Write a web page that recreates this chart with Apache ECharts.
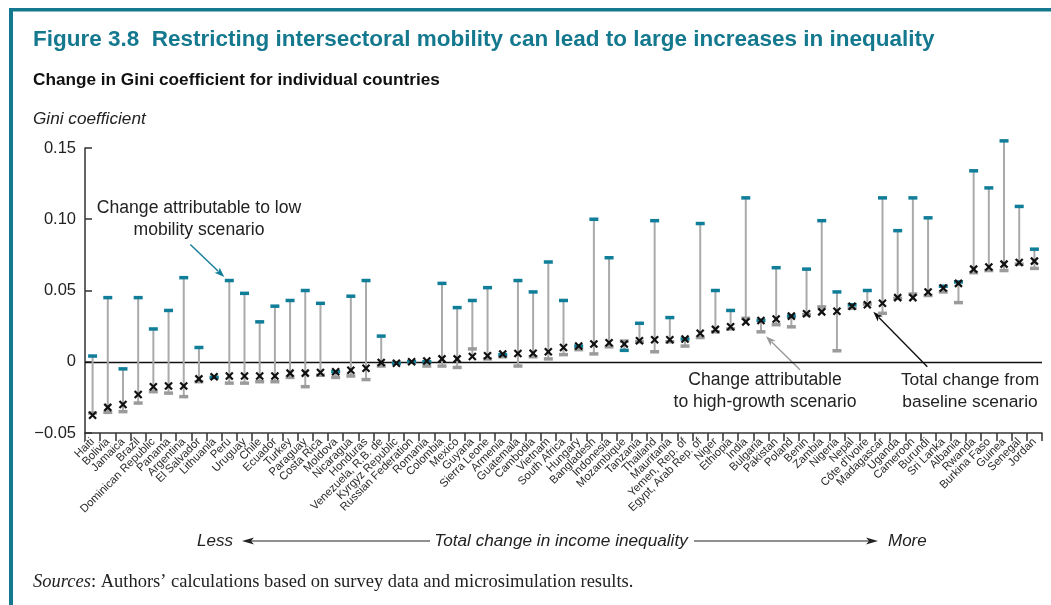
<!DOCTYPE html>
<html>
<head>
<meta charset="utf-8">
<script src="https://cdn.jsdelivr.net/npm/echarts@6/dist/echarts.min.js"></script>
<style>
  html, body { margin: 0; padding: 0; background: #fff; }
  #chart { width: 1051px; height: 605px; }
</style>
</head>
<body>
<div id="chart"></div>
<script>
// Countries ordered by total change in the Gini coefficient
var countries = ['Haiti','Bolivia','Jamaica','Brazil','Dominican Republic','Panama','Argentina','El Salvador','Lithuania','Peru','Uruguay','Chile','Ecuador','Turkey','Paraguay','Costa Rica','Moldova','Nicaragua','Honduras','Venezuela, R.B. de','Kyrgyz Republic','Russian Federation','Romania','Colombia','Mexico','Guyana','Sierra Leone','Armenia','Guatemala','Cambodia','Vietnam','South Africa','Hungary','Bangladesh','Indonesia','Mozambique','Tanzania','Thailand','Mauritania','Yemen, Rep. of','Egypt, Arab Rep. of','Niger','Ethiopia','India','Bulgaria','Pakistan','Poland','Benin','Zambia','Nigeria','Nepal',"Côte d'Ivoire",'Madagascar','Uganda','Cameroon','Burundi','Sri Lanka','Albania','Rwanda','Burkina Faso','Guinea','Senegal','Jordan'];

// Change attributable to the low mobility scenario
var lowMobility = [0.004,0.045,-0.005,0.045,0.023,0.036,0.059,0.010,-0.011,0.057,0.048,0.028,0.039,0.043,0.050,0.041,-0.007,0.046,0.057,0.018,-0.001,0.000,0.000,0.055,0.038,0.043,0.052,0.005,0.057,0.049,0.070,0.043,0.011,0.100,0.073,0.008,0.027,0.099,0.031,0.016,0.097,0.050,0.036,0.115,0.029,0.066,0.032,0.065,0.099,0.049,0.040,0.050,0.115,0.092,0.115,0.101,0.053,0.056,0.134,0.122,0.155,0.109,0.079];

// Change attributable to the high-growth scenario
var highGrowth = [-0.036,-0.0355,-0.035,-0.029,-0.021,-0.022,-0.0245,-0.014,-0.011,-0.015,-0.015,-0.014,-0.014,-0.011,-0.0175,-0.0095,-0.011,-0.010,-0.0125,-0.003,-0.001,0.000,-0.003,-0.003,-0.004,0.009,0.002,0.0035,-0.003,0.0035,0.002,0.005,0.0085,0.0055,0.0105,0.0145,0.014,0.007,0.014,0.011,0.017,0.021,0.023,0.0305,0.021,0.026,0.0245,0.033,0.0385,0.0077,0.0375,0.0405,0.034,0.0445,0.0475,0.0465,0.049,0.0415,0.0625,0.064,0.064,0.0685,0.0655];

// Total change from the baseline scenario
var totalChange = [-0.0375,-0.032,-0.030,-0.023,-0.0175,-0.017,-0.017,-0.012,-0.0105,-0.010,-0.010,-0.010,-0.010,-0.008,-0.008,-0.0075,-0.007,-0.006,-0.0045,-0.0005,-0.001,0.000,0.0005,0.002,0.002,0.0037,0.0042,0.0054,0.0058,0.006,0.007,0.010,0.011,0.0124,0.0133,0.0125,0.0147,0.0154,0.0154,0.016,0.020,0.0227,0.0245,0.028,0.029,0.030,0.032,0.0337,0.035,0.0355,0.039,0.040,0.041,0.045,0.045,0.049,0.0517,0.055,0.065,0.0665,0.0685,0.0697,0.0706];

var yTicks = { min: -0.05, max: 0.15, interval: 0.05 };

var TEAL = '#117e99';
var FRAME = '#14788f';
var GRAY_TICK = '#9b9b9b';
var STEM = '#aaaaaa';
var SANS = '"Liberation Sans", Arial, Helvetica, sans-serif';
var SERIF = '"Liberation Serif", "Times New Roman", serif';

var seriesData = countries.map(function (c, i) {
  return [i, lowMobility[i], highGrowth[i], totalChange[i]];
});

function renderScenario(params, api) {
  var i = api.value(0);
  var lo = api.value(1), hg = api.value(2), tot = api.value(3);
  var pLo = api.coord([i, lo]);
  var pHg = api.coord([i, hg]);
  var pTot = api.coord([i, tot]);
  var ys = [pLo[1], pHg[1], pTot[1]];
  var top = Math.min.apply(null, ys), bot = Math.max.apply(null, ys);
  var x = pLo[0];
  var w = 9, h = 3.5, s = 3.5;
  return {
    type: 'group',
    children: [
      { type: 'line', shape: { x1: x, y1: top, x2: x, y2: bot }, style: { stroke: STEM, lineWidth: 2 } },
      { type: 'rect', shape: { x: x - w / 2, y: pHg[1] - h / 2, width: w, height: h }, style: { fill: GRAY_TICK } },
      { type: 'rect', shape: { x: x - w / 2, y: pLo[1] - h / 2, width: w, height: h }, style: { fill: TEAL } },
      { type: 'line', shape: { x1: x - s, y1: pTot[1] - s, x2: x + s, y2: pTot[1] + s }, style: { stroke: '#111', lineWidth: 2.2 } },
      { type: 'line', shape: { x1: x - s, y1: pTot[1] + s, x2: x + s, y2: pTot[1] - s }, style: { stroke: '#111', lineWidth: 2.2 } }
    ]
  };
}

var chart = echarts.init(document.getElementById('chart'), null, { renderer: 'canvas' });

var baseGraphics = [
  // frame
  { type: 'rect', shape: { x: 9, y: 8, width: 4, height: 597 }, style: { fill: FRAME }, silent: true },
  { type: 'rect', shape: { x: 9, y: 8, width: 1042, height: 3.5 }, style: { fill: FRAME }, silent: true },
  // headings
  { type: 'text', x: 33, y: 40, style: { text: 'Figure 3.8  Restricting intersectoral mobility can lead to large increases in inequality', font: 'bold 22.5px ' + SANS, fill: FRAME, verticalAlign: 'middle' } },
  { type: 'text', x: 33, y: 80, style: { text: 'Change in Gini coefficient for individual countries', font: 'bold 17.2px ' + SANS, fill: '#111', verticalAlign: 'middle' } },
  { type: 'text', x: 33, y: 119, style: { text: 'Gini coefficient', font: 'italic 17.2px ' + SANS, fill: '#222', verticalAlign: 'middle' } },
  // annotations
  { type: 'text', x: 199, y: 219, style: { text: 'Change attributable to low\nmobility scenario', font: '17.6px ' + SANS, fill: '#222', align: 'center', verticalAlign: 'middle', lineHeight: 22 } },
  { type: 'text', x: 765, y: 391, style: { text: 'Change attributable\nto high-growth scenario', font: '17.6px ' + SANS, fill: '#222', align: 'center', verticalAlign: 'middle', lineHeight: 22 } },
  { type: 'text', x: 970, y: 391, style: { text: 'Total change from\nbaseline scenario', font: '17.4px ' + SANS, fill: '#222', align: 'center', verticalAlign: 'middle', lineHeight: 22 } },
  // horizontal axis caption
  { type: 'text', x: 233, y: 541, style: { text: 'Less', font: 'italic 17px ' + SANS, fill: '#222', align: 'right', verticalAlign: 'middle' } },
  { type: 'text', x: 561, y: 541, style: { text: 'Total change in income inequality', font: 'italic 17.2px ' + SANS, fill: '#222', align: 'center', verticalAlign: 'middle' } },
  { type: 'text', x: 888, y: 541, style: { text: 'More', font: 'italic 17px ' + SANS, fill: '#222', align: 'left', verticalAlign: 'middle' } },
  { type: 'line', shape: { x1: 248, y1: 541, x2: 430, y2: 541 }, style: { stroke: '#222', lineWidth: 1.2 } },
  { type: 'polygon', shape: { points: [[242, 541], [254, 537.5], [251, 541], [254, 544.5]] }, style: { fill: '#222' } },
  { type: 'line', shape: { x1: 694, y1: 541, x2: 872, y2: 541 }, style: { stroke: '#222', lineWidth: 1.2 } },
  { type: 'polygon', shape: { points: [[878, 541], [866, 537.5], [869, 541], [866, 544.5]] }, style: { fill: '#222' } },
  // source note
  { type: 'text', x: 33, y: 582, style: {
      rich: { it: { font: 'italic 18.5px ' + SERIF, fill: '#222' }, rg: { font: '18.5px ' + SERIF, fill: '#222' } },
      text: '{it|Sources}{rg|: Authors\u2019 calculations based on survey data and microsimulation results.}',
      verticalAlign: 'middle' } }
];

var option = {
  animation: false,
  grid: { left: 85, right: 9, top: 148, bottom: 172, containLabel: false, outerBoundsMode: 'none' },
  xAxis: {
    type: 'category',
    data: countries,
    boundaryGap: true,
    axisLine: { onZero: false, lineStyle: { color: '#333', width: 1.5 } },
    axisTick: { show: true, interval: 0, length: 8, lineStyle: { color: '#333', width: 1.5 } },
    axisLabel: { interval: 0, rotate: 45, fontSize: 11.3, fontFamily: SANS, color: '#2a2a2a', margin: 7 },
    splitLine: { show: false }
  },
  yAxis: {
    type: 'value',
    min: yTicks.min, max: yTicks.max, interval: yTicks.interval,
    axisLine: { show: true, lineStyle: { color: '#333', width: 1.5 } },
    axisTick: { show: true, inside: true, length: 7, lineStyle: { color: '#333', width: 1.5 } },
    axisLabel: {
      fontSize: 16.5, fontFamily: SANS, color: '#222', margin: 9,
      formatter: function (v) {
        var r = Math.round(v * 100) / 100;
        if (r === 0) return '0';
        return (r < 0 ? '\u2212' : '') + Math.abs(r).toFixed(2);
      }
    },
    splitLine: { show: false }
  },
  series: [{
    type: 'custom',
    clip: false,
    renderItem: renderScenario,
    encode: { x: 0, y: [1, 2, 3] },
    data: seriesData,
    z: 3,
    markLine: {
      silent: true,
      symbol: ['none', 'none'],
      label: { show: false },
      lineStyle: { color: '#111', width: 1.3, type: 'solid' },
      data: [{ yAxis: 0 }],
      z: 1
    }
  }],
  graphic: baseGraphics
};

chart.setOption(option);

// Pointer arrows, anchored to the marks they describe
function arrow(from, to, color) {
  var dx = to[0] - from[0], dy = to[1] - from[1];
  var len = Math.sqrt(dx * dx + dy * dy);
  var ux = dx / len, uy = dy / len;
  var hl = 10, hw = 3.6;
  var bx = to[0] - ux * hl, by = to[1] - uy * hl;
  return [
    { type: 'line', shape: { x1: from[0], y1: from[1], x2: bx + ux * 2, y2: by + uy * 2 }, style: { stroke: color, lineWidth: 1.4 } },
    { type: 'polygon', shape: { points: [to, [bx - uy * hw, by + ux * hw], [bx + ux * 2.5, by + uy * 2.5], [bx + uy * hw, by - ux * hw]] }, style: { fill: color } }
  ];
}
function px(i, v) { return chart.convertToPixel({ seriesIndex: 0 }, [i, v]); }

var iPeru = countries.indexOf('Peru');
var iBul = countries.indexOf('Bulgaria');
var iCiv = countries.indexOf("Côte d'Ivoire");
var pPeru = px(iPeru, lowMobility[iPeru]);
var pBul = px(iBul, highGrowth[iBul]);
var pCiv = px(iCiv, totalChange[iCiv]);

var arrows = []
  .concat(arrow([pPeru[0] - 39, pPeru[1] - 36], [pPeru[0] - 5, pPeru[1] - 3.5], TEAL))
  .concat(arrow([pBul[0] + 39, pBul[1] + 38], [pBul[0] + 5, pBul[1] + 4.5], '#999'))
  .concat(arrow([pCiv[0] + 60, pCiv[1] + 62], [pCiv[0] + 6, pCiv[1] + 7], '#111'));

chart.setOption({ graphic: baseGraphics.concat(arrows) });
</script>
</body>
</html>
